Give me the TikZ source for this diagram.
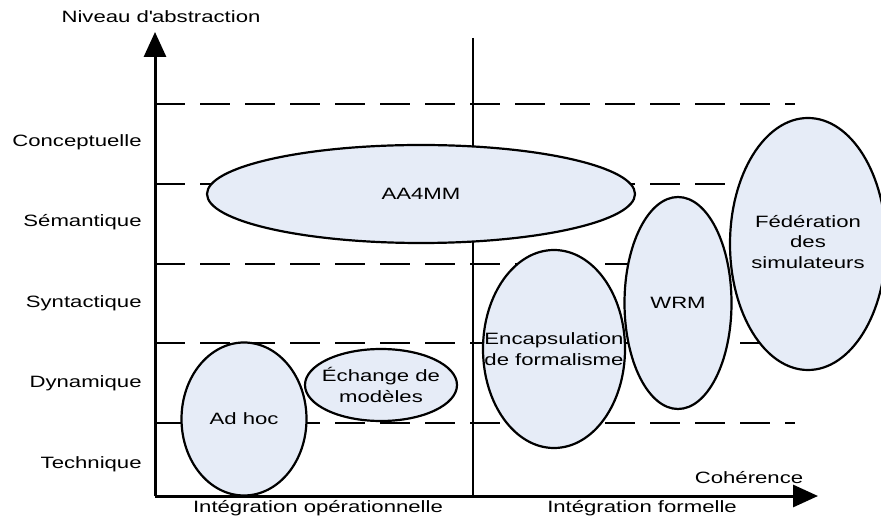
\documentclass[tikz,border=0pt]{standalone}
\usepackage{fontspec}
\setmainfont{Liberation Sans}[FakeStretch=1.35]
\usetikzlibrary{shapes.geometric,arrows.meta,positioning}
\definecolor{ellfill}{RGB}{230,236,247}

\begin{document}
\begin{tikzpicture}[x=0.5pt,y=-0.5pt,
  lvl/.style={anchor=east,inner sep=0pt,font=\fontsize{8.2}{10}\selectfont},
  lab/.style={inner sep=0pt,font=\fontsize{8.2}{10}\selectfont},
  txt/.style={inner sep=0pt,align=center,font=\fontsize{8.2}{10.3}\selectfont},
  ell/.style={ellipse,draw,line width=1.1pt,fill=ellfill,inner sep=0pt},
  griddash/.style={line width=1pt,dash pattern=on 15pt off 7.5pt},
  axis/.style={line width=1.5pt,-{Triangle[length=12.5pt,width=11pt]}},
  ]
  \clip (0,0) rectangle (881,517);

  % levels
  \node[lvl] (concept) at (142,142) {Conceptuelle};
  \node[lvl] (seman) at (142,222) {Sémantique};
  \node[lvl] (syntax) at (142,303) {Syntactique};
  \node[lvl] (dyna) at (142,383) {Dynamique};
  \node[lvl] (techn) at (142,464) {Technique};

  \foreach \y in {104,184,264,343,423}
  \draw[griddash] (155,\y) -- (795,\y);
  \draw[line width=1.2pt] (473,38) -- (473,496);

  % approaches
  \node[ell,minimum width=214pt,minimum height=49pt,label={[txt]center:AA4MM}] (aa4mm) at (421,194) {};
  \node[ell,minimum width=62.5pt,minimum height=76.5pt,label={[txt]center:Ad hoc}] (adhoc) at (244,419) {};
  \node[ell,minimum width=76pt,minimum height=36pt,label={[txt]center:Échange de\\modèles}] (echange) at (381,385) {};
  \node[ell,minimum width=71pt,minimum height=99pt,label={[txt]center:Encapsulation\\de formalisme}] (encap) at (554,349) {};
  \node[ell,minimum width=53.5pt,minimum height=106pt,label={[txt]center:WRM}] (wrm) at (678,303) {};
  \node[ell,minimum width=78pt,minimum height=126pt] (fede) at (808,244) {};
  \node[txt] (fedetxt) at (808,242) {Fédération\\des\\simulateurs};

  % axes
  \coordinate (o) at (155,496);
  \coordinate (ytop) at (155,32);
  \coordinate (xend) at (818,496);
  \draw[axis] (o) -- (ytop);
  \draw[axis] (o) -- (xend);
  \node[lab] (niveau) at (161,17) {Niveau d\textquotesingle abstraction};
  \node[lab] (coher) at (749,478) {Cohérence};
  \node[lab] (intop) at (318,508) {Intégration opérationnelle};
  \node[lab] (intfo) at (642,508) {Intégration formelle};
\end{tikzpicture}
\end{document}
